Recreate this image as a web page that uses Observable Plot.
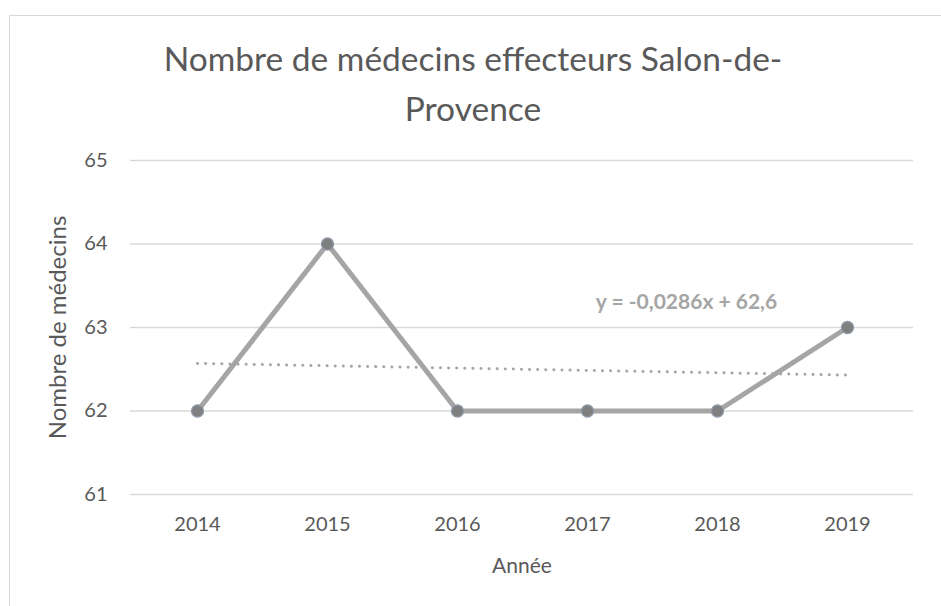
<!DOCTYPE html>
<html>
<head>
<meta charset="utf-8">
<script src="https://cdn.jsdelivr.net/npm/d3@7"></script>
<script src="https://cdn.jsdelivr.net/npm/@observablehq/plot@0.6"></script>
<style>
  html, body { margin: 0; padding: 0; background: #fff; overflow: hidden; }
  #wrap { position: relative; width: 941px; height: 606px; }
  #border { position: absolute; left: 9px; top: 15px; width: 1200px; height: 1200px; border: 1px solid #d9d9d9; box-sizing: border-box; pointer-events: none; }
  #chart { position: absolute; left: 0; top: 0; }
</style>
</head>
<body>
<div id="wrap"><div id="border"></div><div id="chart"></div></div>
<script>
const years = ["2014", "2015", "2016", "2017", "2018", "2019"];
const doctors = [62, 64, 62, 62, 62, 63];
const yTicks = [61, 62, 63, 64, 65];
const trendYears = ["2014", "2019"];
const trendValues = [62.57, 62.43];
const titleLines = ["Nombre de médecins effecteurs Salon-de-", "Provence"];
const equation = "y = -0,0286x + 62,6";
const xLabel = "Année";
const yLabel = "Nombre de médecins";

const data = years.map((y, i) => ({year: y, value: doctors[i]}));
const trend = trendYears.map((y, i) => ({year: y, value: trendValues[i]}));

const font = "Lato, 'Open Sans', sans-serif";
const chart = Plot.plot({
  width: 941,
  height: 606,
  marginTop: 160,
  marginBottom: 112,
  marginLeft: 130,
  marginRight: 28,
  style: { fontFamily: font, color: "#595959", background: "transparent", overflow: "visible" },
  x: { type: "point", domain: years, padding: 0.5, label: null },
  y: { domain: [61, 65], label: null },
  marks: [
    Plot.gridY(yTicks, { stroke: "#d9d9d9", strokeOpacity: 1, strokeWidth: 1.3 }),
    Plot.axisY(yTicks, { tickSize: 0, tickPadding: 23, fontSize: 20, tickFormat: d3.format("d"), label: null }),
    Plot.axisX({ tickSize: 0, tickPadding: 22, fontSize: 20, label: null }),
    Plot.line(trend, { x: "year", y: "value", stroke: "#a5a5a5", strokeWidth: 3, strokeDasharray: "0.1 8", strokeLinecap: "round" }),
    Plot.line(data, { x: "year", y: "value", stroke: "#a5a5a5", strokeWidth: 5 }),
    Plot.dot(data, { x: "year", y: "value", r: 6, fill: "#7f7f7f", stroke: "#8f97a6", strokeWidth: 1.3 }),
    Plot.text([equation], { x: () => "2018", y: () => 63.3, dx: -31, text: d => d, fontSize: 21, fontWeight: "bold", fill: "#a5a5a5", textAnchor: "middle" }),
    Plot.text([titleLines[0]], { frameAnchor: "top", dx: -49, dy: -100, lineAnchor: "middle", text: d => d, fontSize: 33.5, fill: "#595959" }),
    Plot.text([titleLines[1]], { frameAnchor: "top", dx: -49, dy: -50, lineAnchor: "middle", text: d => d, fontSize: 33.5, fill: "#595959" }),
    Plot.text([xLabel], { frameAnchor: "bottom", dy: 72, lineAnchor: "middle", text: d => d, fontSize: 21, fill: "#595959" }),
    Plot.text([yLabel], { frameAnchor: "left", dx: -72, rotate: -90, textAnchor: "middle", lineAnchor: "middle", text: d => d, fontSize: 24, fill: "#595959" })
  ]
});
document.getElementById("chart").appendChild(chart);
</script>
</body>
</html>
